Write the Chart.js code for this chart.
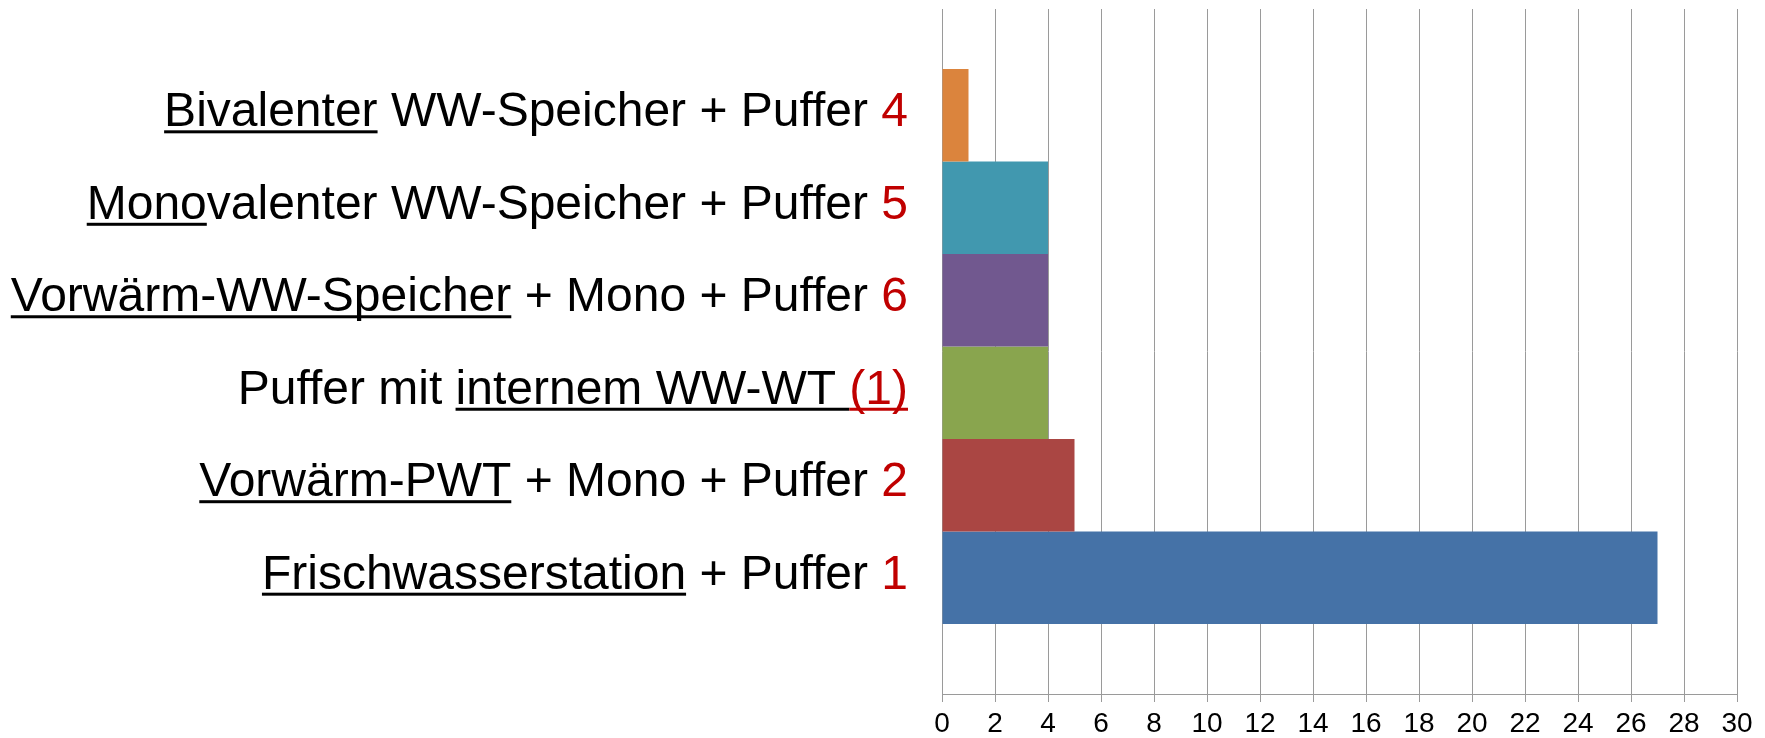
<!DOCTYPE html>
<html>
<head>
<meta charset="utf-8">
<script src="https://cdn.jsdelivr.net/npm/chart.js@4"></script>
<style>
  html, body { margin: 0; padding: 0; background: #fff; }
  #wrap { width: 1765px; height: 738px; }
</style>
</head>
<body>
<div id="wrap"><canvas id="myChart" width="1765" height="738"></canvas></div>
<script>
// Rows from top to bottom, each label split into segments: '' plain, 'u' underlined, 'r' red, 'ru' red+underlined
const rowLabels = [
    [['Bivalenter', 'u'], [' WW-Speicher + Puffer ', ''], ['4', 'r']],
    [['Mono', 'u'], ['valenter WW-Speicher + Puffer ', ''], ['5', 'r']],
    [['Vorwärm-WW-Speicher', 'u'], [' + Mono + Puffer ', ''], ['6', 'r']],
    [['Puffer mit ', ''], ['internem WW-WT ', 'u'], ['(1)', 'ru']],
    [['Vorwärm-PWT', 'u'], [' + Mono + Puffer ', ''], ['2', 'r']],
    [['Frischwasserstation', 'u'], [' + Puffer ', ''], ['1', 'r']]
];
const counts = [1, 4, 4, 4, 5, 27];
const barColors = ['#DB843D', '#4198AF', '#71588F', '#89A54E', '#AA4643', '#4572A7'];
const xMax = 30;
const xStep = 2;

const gridGray = '#9A9A9A';
const labelFont = '48px "Liberation Sans", Arial, sans-serif';

// Draws the row labels to the left of each bar
const rowLabelPlugin = {
    id: 'rowLabels',
    afterDatasetsDraw(chart) {
        const ctx = chart.ctx;
        ctx.save();
        ctx.font = labelFont;
        ctx.textAlign = 'left';
        ctx.textBaseline = 'alphabetic';
        rowLabels.forEach((segments, i) => {
            const bar = chart.getDatasetMeta(i).data[0];
            const baseline = bar.y + 11;
            const total = segments.reduce((sum, s) => sum + ctx.measureText(s[0]).width, 0);
            let x = 908 - total;
            segments.forEach(([text, style]) => {
                const w = ctx.measureText(text).width;
                ctx.fillStyle = style.includes('r') ? '#C00000' : '#000000';
                ctx.fillText(text, x, baseline);
                if (style.includes('u')) {
                    ctx.fillRect(x, baseline + 4, w, 3);
                }
                x += w;
            });
        });
        ctx.restore();
    }
};

const ctx = document.getElementById('myChart').getContext('2d');
const myChart = new Chart(ctx, {
    type: 'bar',
    data: {
        labels: [''],
        datasets: counts.map((value, i) => ({
            label: rowLabels[i].map(s => s[0]).join(''),
            data: [value],
            backgroundColor: barColors[i],
            borderWidth: 0,
            categoryPercentage: 0.81,
            barPercentage: 1
        }))
    },
    options: {
        indexAxis: 'y',
        responsive: false,
        animation: false,
        layout: {
            padding: { left: 942, right: 28, top: 9, bottom: 0 }
        },
        scales: {
            x: {
                min: 0,
                max: xMax,
                ticks: {
                    stepSize: xStep,
                    color: '#000',
                    padding: 5,
                    font: { family: '"Liberation Sans", Arial, sans-serif', size: 28 }
                },
                grid: {
                    color: gridGray,
                    tickLength: 8
                },
                border: { color: gridGray },
                afterFit: axis => { axis.height = 44; }
            },
            y: {
                display: false,
                // the bar group sits a little above the middle of the plot
                afterDataLimits: scale => { scale.min = 0.0073; }
            }
        },
        plugins: {
            legend: { display: false },
            tooltip: { enabled: false }
        }
    },
    plugins: [rowLabelPlugin]
});
</script>
</body>
</html>
